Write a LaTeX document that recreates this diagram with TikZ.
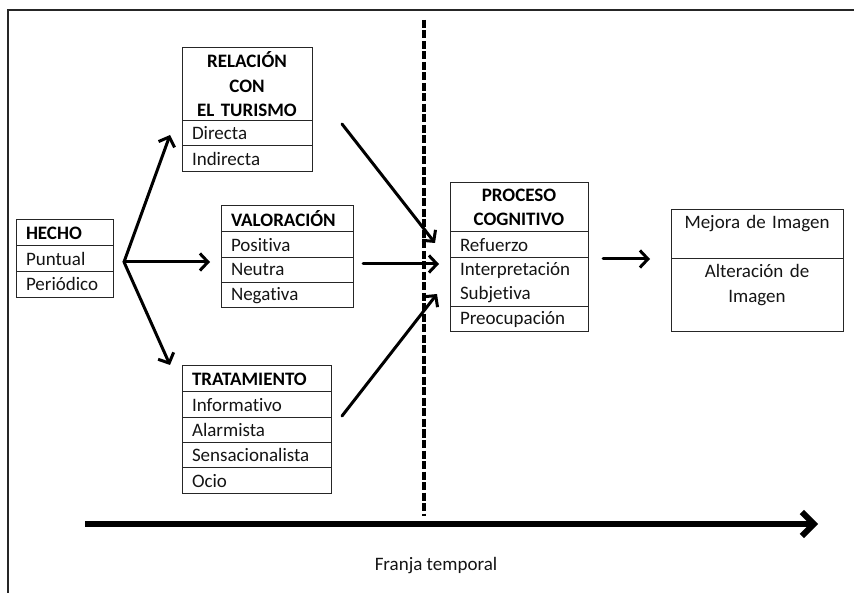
\documentclass[tikz,border=0pt]{standalone}
\usepackage{fontspec}
\setmainfont{Carlito}[Ligatures={NoCommon}]
\usetikzlibrary{arrows.meta}
\begin{document}
\begin{tikzpicture}[x=1pt,y=-1pt,
  cell/.style={draw=black!85, line width=1pt, anchor=north west, inner xsep=10pt,
    inner ysep=0pt, outer sep=0pt, align=left, font=\fontsize{19}{24.5}\selectfont, text=black!92},
  head/.style={cell, font=\bfseries\fontsize{19}{24.5}\selectfont, text=black},
  ctext/.style={align=center},
  arr/.style={line width=3pt, line cap=round, -{Straight Barb[length=8pt,width=17pt]}},
  timearr/.style={line width=6pt, -{Straight Barb[length=12pt,width=24pt]}},
  frame/.style={line width=1.5pt, draw=black!85},
  divider/.style={line width=3.5pt, dash pattern=on 8pt off 2.5pt},
]
\useasboundingbox (0,0) rectangle (854,593);

% outer frame (top and left edges)
\draw[frame] (854,10) -- (8,10) -- (8,593);

% HECHO
\node[head, text width=77pt, minimum height=25.7pt] (hecho) at (16,220) {HECHO};
\node[cell, text width=77pt, minimum height=25.7pt] (puntual) at (hecho.south west) {Puntual};
\node[cell, text width=77pt, minimum height=25.7pt] (periodico) at (puntual.south west) {Periódico};

% RELACIÓN CON EL TURISMO
\node[head, ctext, text width=110pt, minimum height=73pt] (relacion) at (182,48) {RELACIÓN\\CON\\EL TURISMO};
\node[cell, text width=110pt, minimum height=25pt] (directa) at (relacion.south west) {Directa};
\node[cell, text width=110pt, minimum height=26pt] (indirecta) at (directa.south west) {Indirecta};

% VALORACIÓN
\node[head, text width=112pt, minimum height=26pt] (valoracion) at (221,206) {VALORACIÓN};
\node[cell, text width=112pt, minimum height=25.3pt] (positiva) at (valoracion.south west) {Positiva};
\node[cell, text width=112pt, minimum height=25.3pt] (neutra) at (positiva.south west) {Neutra};
\node[cell, text width=112pt, minimum height=25.3pt] (negativa) at (neutra.south west) {Negativa};

% TRATAMIENTO
\node[head, text width=129pt, minimum height=26pt] (tratamiento) at (182,366) {TRATAMIENTO};
\node[cell, text width=129pt, minimum height=25.3pt] (informativo) at (tratamiento.south west) {Informativo};
\node[cell, text width=129pt, minimum height=25.3pt] (alarmista) at (informativo.south west) {Alarmista};
\node[cell, text width=129pt, minimum height=25.3pt] (sensacionalista) at (alarmista.south west) {Sensacionalista};
\node[cell, text width=129pt, minimum height=25.3pt] (ocio) at (sensacionalista.south west) {Ocio};

% PROCESO COGNITIVO
\node[head, ctext, text width=118pt, minimum height=49pt] (proceso) at (450,183) {PROCESO\\COGNITIVO};
\node[cell, text width=118pt, minimum height=26pt] (refuerzo) at (proceso.south west) {Refuerzo};
\node[cell, text width=118pt, minimum height=49pt] (interpretacion) at (refuerzo.south west) {Interpretación\\Subjetiva};
\node[cell, text width=118pt, minimum height=25pt] (preocupacion) at (interpretacion.south west) {Preocupación};

% Resultado sobre la imagen
\node[cell, ctext, text width=152pt, minimum height=49pt] (mejora) at (671,210) {Mejora de Imagen\\~};
\node[cell, ctext, text width=152pt, minimum height=73pt] (alteracion) at (mejora.south west) {Alteración de\\Imagen\\~};

% arrow end points
\coordinate (fork) at (124,262);
\coordinate (relIn) at (170,135);
\coordinate (valIn) at (210,262);
\coordinate (traIn) at (170,365);
\coordinate (relOut) at (342,124);
\coordinate (valOut) at (363,264);
\coordinate (traOut) at (342,416);
\coordinate (procIn1) at (435,243);
\coordinate (procIn2) at (439,264);
\coordinate (procIn3) at (437,294);
\coordinate (procOut) at (603,259);
\coordinate (imgIn) at (650,259);
\coordinate (timeStart) at (85,524);
\coordinate (timeEnd) at (818,524);
\coordinate (divTop) at (424,20);
\coordinate (divBot) at (424,516);

% time divider
\draw[divider] (divTop) -- (divBot);

% connectors
\draw[arr] (fork) -- (relIn);
\draw[arr] (fork) -- (valIn);
\draw[arr] (fork) -- (traIn);
\draw[arr] (relOut) -- (procIn1);
\draw[arr] (valOut) -- (procIn2);
\draw[arr] (traOut) -- (procIn3);
\draw[arr] (procOut) -- (imgIn);

% time axis
\draw[timearr] (timeStart) -- (timeEnd);
\node[text=black!92, font=\fontsize{19}{24.5}\selectfont] (franja) at (436,566) {Franja temporal};

\end{tikzpicture}
\end{document}
